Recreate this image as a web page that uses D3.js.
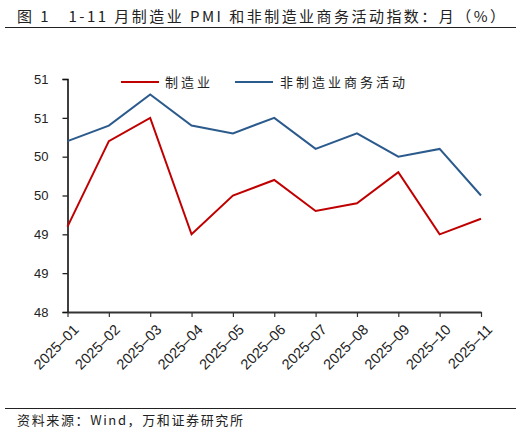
<!DOCTYPE html>
<html><head><meta charset="utf-8">
<script src="https://cdn.jsdelivr.net/npm/d3@7"></script>
<style>body{margin:0;background:#fff}svg{display:block}text{white-space:pre}</style>
</head><body>
<svg id="c" width="521" height="432"></svg>
<script>
const months = ["2025-01","2025-02","2025-03","2025-04","2025-05","2025-06","2025-07","2025-08","2025-09","2025-10","2025-11"];
const manufacturing = [49.1,50.2,50.5,49.0,49.5,49.7,49.3,49.4,49.8,49.0,49.2];
const nonManufacturing = [50.2,50.4,50.8,50.4,50.3,50.5,50.1,50.3,50.0,50.1,49.5];
const yTicks = [48,48.5,49,49.5,50,50.5,51];
const seriesNames = ["制造业","非制造业商务活动"];
const colors = ["#c00000","#2b5a8c"];
const title = "图 1   1-11 月制造业 PMI 和非制造业商务活动指数：月（%）";
const source = "资料来源：Wind，万和证券研究所";

const svg = d3.select("#c");
const font = "'Noto Sans CJK SC','Noto Sans',sans-serif";
const L=67.5, R=481, T=79, B=312;
const x = d3.scalePoint().domain(months).range([L,R]);
const y = d3.scaleLinear().domain([48,51]).range([B,T]);

svg.append("text").attr("x",17).attr("y",22).attr("font-family",font).attr("font-size",15).attr("fill","#222")
  .attr("textLength",488).attr("lengthAdjust","spacing").text(title);
svg.append("line").attr("x1",5).attr("x2",516).attr("y1",27.5).attr("y2",27.5).attr("stroke","#222").attr("stroke-width",1);
svg.append("line").attr("x1",5).attr("x2",516).attr("y1",408.5).attr("y2",408.5).attr("stroke","#222").attr("stroke-width",1);
svg.append("text").attr("x",17).attr("y",425).attr("font-family",font).attr("font-size",13).attr("fill","#222")
  .attr("textLength",226).attr("lengthAdjust","spacing").text(source);

const ya = svg.append("g").attr("transform",`translate(${L},0)`)
  .call(d3.axisLeft(y).tickValues(yTicks).tickFormat(d3.format(".0f")).tickSize(5).tickPadding(14));
ya.select(".domain").attr("stroke","#111").attr("stroke-width",1.6);
ya.selectAll(".tick line").attr("stroke","#111").attr("stroke-width",1.2);
ya.selectAll("text").attr("font-family","'Liberation Sans',Arial,sans-serif").attr("font-size",13).attr("fill","#222");

const xa = svg.append("g").attr("transform",`translate(0,${B})`)
  .call(d3.axisBottom(x).tickSize(5).tickSizeOuter(0).tickFormat(d=>d.replace("-","\u2013")));
xa.select(".domain").attr("stroke","#333").attr("stroke-width",2.2);
xa.selectAll(".tick line").attr("stroke","#333").attr("stroke-width",1.2);
xa.selectAll("text").attr("font-family","'Liberation Sans',Arial,sans-serif").attr("font-size",14.5).attr("fill","#222")
  .attr("text-anchor","end").attr("dy",0).attr("transform","translate(6,13) rotate(-45)");

const line = d3.line().x((d,i)=>x(months[i])).y(d=>y(d));
[manufacturing,nonManufacturing].forEach((s,k)=>{
  svg.append("path").datum(s).attr("d",line).attr("fill","none").attr("stroke",colors[k]).attr("stroke-width",2);
});

const lg = [{x:121,t:165,w:45,n:0},{x:235,t:280,w:125,n:1}];
lg.forEach(o=>{
  svg.append("line").attr("x1",o.x).attr("x2",o.x+38).attr("y1",82).attr("y2",82).attr("stroke",colors[o.n]).attr("stroke-width",2);
  svg.append("text").attr("x",o.t).attr("y",87).attr("font-family",font).attr("font-size",13).attr("fill","#222")
    .attr("textLength",o.w).attr("lengthAdjust","spacing").text(seriesNames[o.n]);
});
</script>
</body></html>
